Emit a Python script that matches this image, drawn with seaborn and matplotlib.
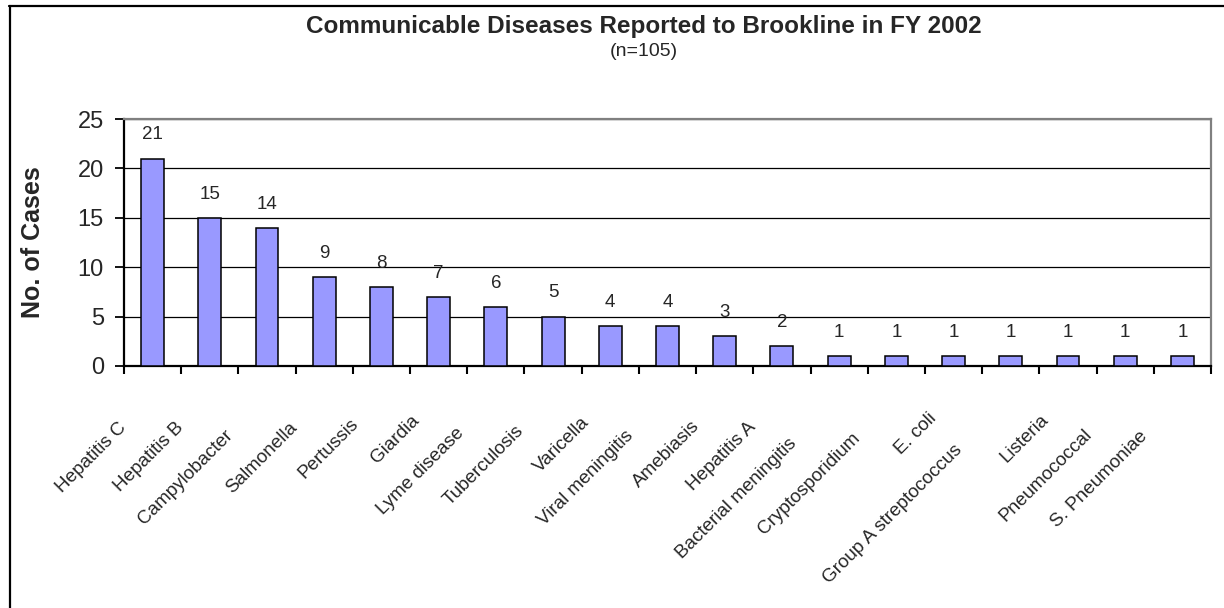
import numpy as np
import matplotlib
matplotlib.use("Agg")
import matplotlib.pyplot as plt
import matplotlib.transforms as mtransforms
from matplotlib.lines import Line2D
from matplotlib.font_manager import FontProperties
import seaborn as sns

# Reported cases by disease, FY 2002
diseases = [
    "Hepatitis C", "Hepatitis B", "Campylobacter", "Salmonella", "Pertussis",
    "Giardia", "Lyme disease", "Tuberculosis", "Varicella", "Viral meningitis",
    "Amebiasis", "Hepatitis A", "Bacterial meningitis", "Cryptosporidium",
    "E. coli", "Group A streptococcus", "Listeria", "Pneumococcal",
    "S. Pneumoniae",
]
cases = [21, 15, 14, 9, 8, 7, 6, 5, 4, 4, 3, 2, 1, 1, 1, 1, 1, 1, 1]
y_ticks = [0, 5, 10, 15, 20, 25]

title = "Communicable Diseases Reported to Brookline in FY 2002"
subtitle = "(n=105)"
y_label = "No. of Cases"

sns.set_style("white")
plt.rcParams["font.family"] = ["Liberation Sans", "DejaVu Sans"]

W, H, DPI = 1224, 608, 100
fig = plt.figure(figsize=(W / DPI, H / DPI), dpi=DPI)
fig.patch.set_facecolor("white")

left, right, top, bottom = 124, 1211, 119, 366
ax = fig.add_axes([left / W, 1 - bottom / H, (right - left) / W, (bottom - top) / H])

sns.barplot(x=diseases, y=cases, color="#9999FF", saturation=1, width=0.4,
            edgecolor="black", linewidth=1.1, ax=ax, zorder=3)

n = len(diseases)
ax.set_xlim(-0.5, n - 0.5)
ax.set_ylim(0, 25)
ax.set_yticks(y_ticks)
ax.set_yticklabels([str(t) for t in y_ticks], fontsize=17)
ax.yaxis.grid(True, color="black", linewidth=0.9, zorder=0)
ax.xaxis.grid(False)
ax.set_axisbelow(True)

# spines: dark on left/bottom, grey on top/right
for side in ("left", "bottom"):
    ax.spines[side].set_color("black")
    ax.spines[side].set_linewidth(1.6)
for side in ("top", "right"):
    ax.spines[side].set_color("#808080")
    ax.spines[side].set_linewidth(1.6)
    ax.spines[side].set_visible(True)

ax.tick_params(axis="y", which="major", direction="out", length=6.5, width=1.3,
               color="black", pad=8, left=True)
ax.set_xticks(range(n))
ax.set_xticklabels([""] * n)
ax.tick_params(axis="x", which="major", length=0)
ax.set_xticks(np.arange(-0.5, n, 1), minor=True)
ax.tick_params(axis="x", which="minor", direction="out", length=6, width=1.5,
               color="black", bottom=True)
ax.set_xlabel("")

ax.set_ylabel(y_label, fontsize=18, fontweight="bold", va="center")
ax.yaxis.set_label_coords((33 - left) / (right - left), 0.5)

# value labels above each bar
for i, v in enumerate(cases):
    ax.annotate(str(v), (i, v), xytext=(0, 17), textcoords="offset points",
                ha="center", va="center", fontsize=13.5, zorder=4)

# rotated category labels; longer names sit further down-left
label_size = 13.6
renderer = fig.canvas.get_renderer()
fp = FontProperties(family=["Liberation Sans", "DejaVu Sans"], size=label_size)
for i, name in enumerate(diseases):
    w, _, _ = renderer.get_text_width_height_descent(name, fp, ismath=False)
    shift = 0.233 * w
    dx = (-7.5 - shift) / DPI
    dy = -(37.5 + shift) / DPI
    trans = ax.get_xaxis_transform() + mtransforms.ScaledTranslation(dx, dy, fig.dpi_scale_trans)
    ax.text(i, 0, name, transform=trans, rotation=45, rotation_mode="anchor",
            ha="right", va="center", fontproperties=fp, clip_on=False)

fig.text(644 / W, 1 - 26 / H, title, ha="center", va="center",
         fontsize=17.5, fontweight="bold")
fig.text(644 / W, 1 - 52 / H, subtitle, ha="center", va="center", fontsize=14)

# chart-area frame (left and top edges)
fig.add_artist(Line2D([10 / W, 10 / W], [0, 1 - 6 / H], transform=fig.transFigure,
                      color="black", linewidth=1.6))
fig.add_artist(Line2D([9 / W, 1], [1 - 6 / H, 1 - 6 / H], transform=fig.transFigure,
                      color="black", linewidth=1.6))

fig.savefig("out.png", dpi=DPI, facecolor="white")
